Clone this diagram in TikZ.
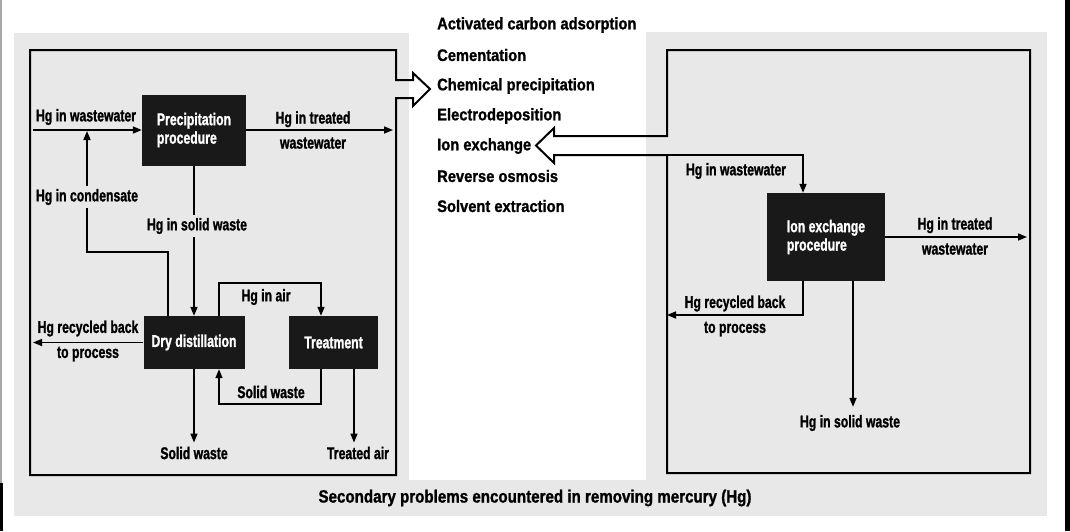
\documentclass[tikz,border=0pt]{standalone}
\usepackage{fontspec}
\newfontfamily\lblfont{Liberation Sans}[FakeStretch=0.72, FakeBold=1.2]
\newfontfamily\listfont{Liberation Sans}[FakeStretch=0.88, FakeBold=1.2]
\newfontfamily\capfont{Liberation Sans}[FakeStretch=0.85, FakeBold=1.2]
\usetikzlibrary{arrows.meta}
\definecolor{panelbg}{gray}{0.91}
\definecolor{boxfill}{gray}{0.1}
\tikzset{
  lbl/.style={font={\lblfont\bfseries\fontsize{17}{25}\selectfont}, align=center, inner sep=1pt},
  lblbg/.style={lbl, fill=panelbg, inner ysep=3pt},
  procbox/.style={fill=boxfill, text=white, font={\lblfont\bfseries\fontsize{17}{18.5}\selectfont}, align=left, inner sep=0pt},
  conn/.style={line width=1.6pt, -{Triangle[length=9pt,width=7pt]}},
  frameline/.style={line width=2pt, line join=miter},
  listitem/.style={font={\listfont\bfseries\fontsize{16.7}{18}\selectfont}, anchor=west, inner sep=0pt},
  captext/.style={font={\capfont\bfseries\fontsize{17.8}{20}\selectfont}, inner sep=0pt}
}
\begin{document}
\begin{tikzpicture}[x=1pt,y=-1pt]
\useasboundingbox (0,0) rectangle (1070,531);
% scanned background panels and page edges
\fill[panelbg] (14,33) rectangle (409,516);
\fill[panelbg] (646,32) rectangle (1047,516);
\fill[panelbg] (409,480) rectangle (646,516);
\fill[black!35] (0,0) rectangle (2,483);
\fill[black] (0,483) rectangle (3,531);
\fill[black] (1065,0) rectangle (1070,531);

% frames with hollow arrows
\draw[frameline] (396,80) -- (396,50) -- (30,50) -- (30,475) -- (396,475) -- (396,98)
  -- (413,98) -- (413,106) -- (430,89) -- (413,73) -- (413,80) -- cycle;
\draw[frameline] (667,136) -- (667,50) -- (1030,50) -- (1030,473) -- (667,473) -- (667,155)
  -- (554,155) -- (554,163) -- (536,145.5) -- (554,128) -- (554,136) -- cycle;

% process boxes
\node[procbox, minimum width=104pt, minimum height=71pt] (prec) at (194,130) {Precipitation\\procedure};
\node[procbox, minimum width=101pt, minimum height=53pt] (dry) at (194,342.5) {Dry distillation};
\node[procbox, minimum width=89pt, minimum height=53pt] (treat) at (333.5,342.5) {Treatment};
\node[procbox, minimum width=118pt, minimum height=88pt] (ion) at (826,237) {Ion exchange\\procedure};

% end labels
\node[lbl] (sw) at (194,453) {Solid waste};
\node[lbl] (ta) at (358,453) {Treated air};
\node[lbl] (rsw) at (850,423) {Hg in solid waste};

% free ends
\coordinate (lin) at (33,130);
\coordinate (lout) at (393,130);
\coordinate (cb) at (87,252);
\coordinate (rin) at (667,155);
\coordinate (rout) at (1027,237);
\coordinate (rrec) at (667,315);
\coordinate (tas) at ([xshift=20.5pt]treat.south);
\coordinate (rsws) at ([xshift=27pt]ion.south);

% left connectors
\draw[conn] (lin) -- (prec.west);
\draw[conn] (prec.east) -- (lout);
\draw[conn, shorten >=1pt] ([xshift=-26pt]dry.north) |- (cb) -- (cb |- lin);
\draw[conn] (prec.south) -- (dry.north);
\draw[conn] ([xshift=25pt]dry.north) -- ++(0,-33) -| ([xshift=-12.5pt]treat.north);
\draw[conn] ([xshift=-12.5pt]treat.south) -- ++(0,35) -| ([xshift=25pt]dry.south);
\draw[conn] (dry.west) -- (dry.west -| lin);
\draw[conn, shorten >=3pt] (dry.south) -- (sw.north);
\draw[conn, shorten >=3pt] (tas) -- (tas |- ta.north);

% right connectors
\draw[conn] (rin) -| ([xshift=-23pt]ion.north);
\draw[conn] (ion.east) -- (rout);
\draw[conn] ([xshift=-23pt]ion.south) |- (rrec);
\draw[conn, shorten >=7pt] (rsws) -- (rsws |- rsw.north);

% labels
\node[lbl] (lww) at (86,117) {Hg in wastewater};
\node[lbl] (ltw) at (313,130) {Hg in treated\\wastewater};
\node[lblbg] (lcond) at (87,197) {Hg in condensate};
\node[lblbg] (lsolid) at (197,226) {Hg in solid waste};
\node[lbl] (lair) at (266,297) {Hg in air};
\node[lbl] (lrec) at (88,341) {Hg recycled back\\to process};
\node[lbl] (lloop) at (271,392) {Solid waste};
\node[lbl] (rww) at (736,171) {Hg in wastewater};
\node[lbl] (rtw) at (955,236) {Hg in treated\\wastewater};
\node[lbl] (rrecl) at (735,316) {Hg recycled back\\to process};

% list of methods
\node[listitem] (m1) at (437,25) {Activated carbon adsorption};
\node[listitem] (m2) at (437,55) {Cementation};
\node[listitem] (m3) at (437,86) {Chemical precipitation};
\node[listitem] (m4) at (437,116) {Electrodeposition};
\node[listitem] (m5) at (437,146) {Ion exchange};
\node[listitem] (m6) at (437,176) {Reverse osmosis};
\node[listitem] (m7) at (437,206) {Solvent extraction};

% caption
\node[captext] (cap) at (535,498) {Secondary problems encountered in removing mercury (Hg)};
\end{tikzpicture}
\end{document}
